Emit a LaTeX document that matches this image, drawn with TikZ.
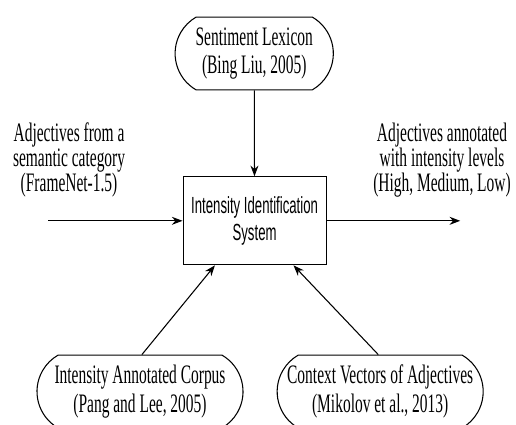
\documentclass[tikz,border=0pt]{standalone}
\usepackage{fontspec}
\setmainfont{Liberation Serif}[FakeStretch=0.58]
\newfontfamily\sysfont{Liberation Sans}[FakeStretch=0.565]
\usepackage{tikz}
\usetikzlibrary{arrows.meta,shapes.misc,calc}
\tikzset{
  src/.style={rounded rectangle, rounded rectangle arc length=120, draw, line width=0.8pt,
    align=center, inner sep=0pt, font=\fontsize{20}{21.5}\selectfont},
  sys/.style={draw, line width=0.8pt, align=center, inner sep=0pt,
    font=\sysfont\fontsize{17.5}{20}\selectfont},
  side/.style={align=center, font=\fontsize{20}{19}\selectfont},
  flow/.style={line width=0.8pt, -{Stealth[length=8pt,width=6pt]}},
}

\begin{document}
\begin{tikzpicture}
  \useasboundingbox (0,0) rectangle (13.60,11.20);

  \node[sys, minimum width=3.77cm, minimum height=2.32cm] (ids) at (6.71,5.38)
    {Intensity Identification\\System};

  \node[src, minimum width=4.17cm, minimum height=1.92cm] (lex) at (6.70,9.79)
    {Sentiment Lexicon\\(Bing Liu, 2005)};
  \node[src, minimum width=5.43cm, minimum height=1.92cm] (corp) at (3.69,0.88)
    {Intensity Annotated Corpus\\(Pang and Lee, 2005)};
  \node[src, minimum width=5.43cm, minimum height=1.92cm] (vec) at (10.02,0.88)
    {Context Vectors of Adjectives\\(Mikolov et al., 2013)};

  \node[side] (inp) at (1.82,6.98) {Adjectives from a\\semantic category\\(FrameNet-1.5)};
  \node[side] (outp) at (11.65,6.98) {Adjectives annotated\\with intensity levels\\(High, Medium, Low)};

  \coordinate (inA) at (1.27,5.38);   % input arrow start
  \coordinate (outA) at (12.13,5.38); % output arrow end

  \draw[flow] (lex) -- (ids);
  \draw[flow] (inA) -- (ids.west);
  \draw[flow] (ids.east) -- (outA);
  \draw[flow] ($(corp.north)+(0.05,0)$) -- ($(ids.south west)!0.225!(ids.south east)$);
  \draw[flow] ($(vec.north)+(-0.05,0)$) -- ($(ids.south west)!0.77!(ids.south east)$);
\end{tikzpicture}
\end{document}
